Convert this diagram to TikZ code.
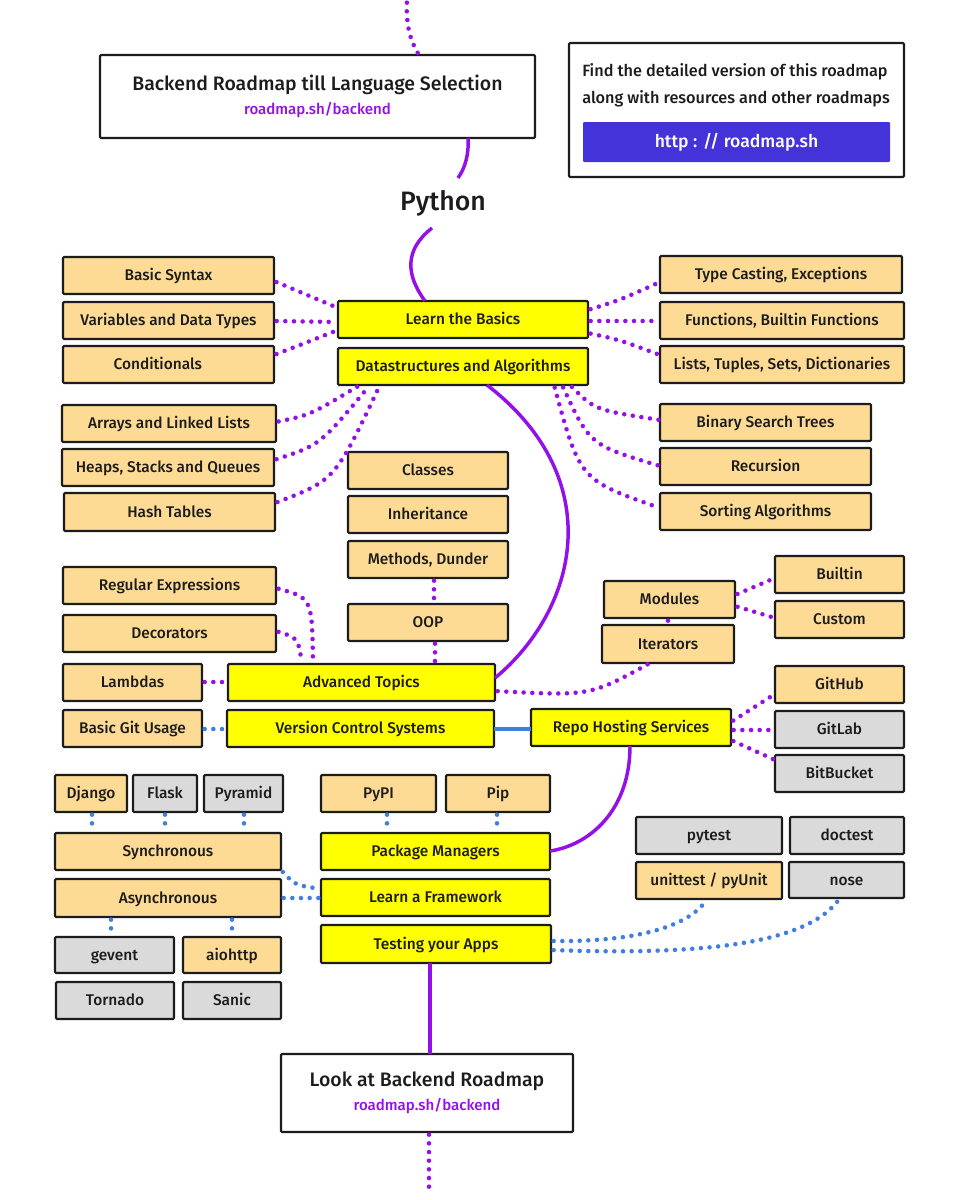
\documentclass[tikz,border=0pt]{standalone}
\usepackage{fontspec}
\setmainfont{Fira Sans}[UprightFont=* Medium]
\usetikzlibrary{calc}
\definecolor{pur}{HTML}{9410EA}
\definecolor{blu}{HTML}{3F7FE2}
\definecolor{btn}{HTML}{4433D9}
\definecolor{ora}{HTML}{FDDB94}
\definecolor{yel}{HTML}{FFFF00}
\definecolor{gra}{HTML}{DADADA}
\definecolor{ink}{HTML}{1C1C1C}
\tikzset{
  bxbase/.style={draw=ink,line width=1.6pt,rounded corners=0.8pt,inner sep=0pt,outer sep=0pt,text=ink,font=\fontsize{11.6}{13}\selectfont,align=center},
  bxone/.style={bxbase,text height=9.2pt,text depth=1pt},
  boxo/.style={bxone,fill=ora},
  boxy/.style={bxone,fill=yel},
  boxg/.style={bxone,fill=gra},
  boxw/.style={bxbase,fill=white,font=\fontsize{14.6}{20}\selectfont},
  pd/.style={pur,line width=3.4pt,line cap=round,dash pattern=on 0pt off 6.5pt,shorten <=2pt,shorten >=1pt},
  bd/.style={blu,line width=3.4pt,line cap=round,dash pattern=on 0pt off 6.5pt,shorten <=2pt,shorten >=1pt},
  ps/.style={pur,line width=2.6pt},
  bs/.style={blu,line width=2.8pt},
  subt/.style={text=pur}
}
\newcommand\bx[7]{\node[#6,minimum width={(#4-#2)*0.75pt},minimum height={(#5-#3)*0.75pt}] (#1) at ({(#2+#4)/2},{(#3+#5)/2}) {#7};}
\newcommand\subline{\color{pur}\fontsize{11.3}{13}\selectfont roadmap.sh/backend}
\begin{document}
\begin{tikzpicture}[x=0.75pt,y=-0.75pt]
\useasboundingbox (0,0) rectangle (960,1200);
\bx{back}{100}{55}{535}{138}{boxw}{Backend Roadmap till Language Selection\\[-2pt]{\subline}}
\bx{info}{569}{43}{904}{177}{boxw}{}
\node[text=ink,font=\fontsize{12.2}{20.5}\selectfont,align=left,anchor=north west,inner sep=0pt] (infotext) at (582,63) {Find the detailed version of this roadmap\\along with resources and other roadmaps};
\bx{btn}{583}{122}{890}{162}{bxbase,draw=none,fill=btn,text=white,font=\fontsize{13.2}{16}\selectfont}{http : // roadmap.sh}
\node[text=ink,font=\fontsize{20}{24}\selectfont,minimum height=37.5pt,inner sep=0pt,outer sep=0pt] (python) at (443,203) {Python};
\bx{syntax}{63}{257}{274}{294}{boxo}{Basic Syntax}
\bx{vars}{63}{302}{274}{339}{boxo}{Variables and Data Types}
\bx{cond}{63}{346}{274}{383}{boxo}{\hspace*{-16pt}Conditionals}
\bx{basics}{338}{301}{588}{338}{boxy}{Learn the Basics}
\bx{dsa}{338}{348}{588}{385}{boxy}{Datastructures and Algorithms}
\bx{casting}{660}{256}{902}{293}{boxo}{Type Casting, Exceptions}
\bx{funcs}{660}{302}{904}{339}{boxo}{Functions, Builtin Functions}
\bx{lists}{660}{346}{904}{383}{boxo}{Lists, Tuples, Sets, Dictionaries}
\bx{arrays}{62}{405}{276}{442}{boxo}{Arrays and Linked Lists}
\bx{heaps}{62}{449}{274}{486}{boxo}{Heaps, Stacks and Queues}
\bx{hash}{64}{493}{275}{531}{boxo}{Hash Tables}
\bx{classes}{348}{452}{508}{489}{boxo}{Classes}
\bx{inherit}{348}{496}{508}{533}{boxo}{Inheritance}
\bx{methods}{348}{541}{508}{578}{boxo}{Methods, Dunder}
\bx{oop}{348}{604}{508}{641}{boxo}{OOP}
\bx{bst}{660}{404}{871}{441}{boxo}{Binary Search Trees}
\bx{recur}{660}{448}{871}{485}{boxo}{Recursion}
\bx{sort}{660}{493}{871}{530}{boxo}{Sorting Algorithms}
\bx{regex}{63}{567}{276}{604}{boxo}{Regular Expressions}
\bx{decor}{63}{615}{276}{652}{boxo}{Decorators}
\bx{lambda}{63}{664}{202}{701}{boxo}{Lambdas}
\bx{adv}{228}{664}{495}{701}{boxy}{Advanced Topics}
\bx{git}{63}{710}{202}{747}{boxo}{Basic Git Usage}
\bx{vcs}{227}{710}{494}{747}{boxy}{Version Control Systems}
\bx{repo}{531}{709}{731}{746}{boxy}{Repo Hosting Services}
\bx{modules}{604}{581}{735}{618}{boxo}{Modules}
\bx{iter}{602}{625}{734}{663}{boxo}{Iterators}
\bx{builtin}{775}{556}{904}{593}{boxo}{Builtin}
\bx{custom}{775}{601}{904}{638}{boxo}{Custom}
\bx{github}{775}{666}{904}{703}{boxo}{GitHub}
\bx{gitlab}{775}{711}{904}{748}{boxg}{GitLab}
\bx{bitb}{775}{755}{904}{792}{boxg}{BitBucket}
\bx{django}{55}{775}{127}{812}{boxo}{Django}
\bx{flask}{133}{775}{197}{812}{boxg}{Flask}
\bx{pyramid}{204}{775}{283}{812}{boxg}{Pyramid}
\bx{sync}{55}{833}{281}{870}{boxo}{Synchronous}
\bx{async}{55}{879}{281}{917}{boxo}{Asynchronous}
\bx{gevent}{55}{937}{174}{973}{boxg}{gevent}
\bx{aiohttp}{183}{937}{281}{973}{boxo}{aiohttp}
\bx{tornado}{56}{982}{174}{1019}{boxg}{Tornado}
\bx{sanic}{183}{982}{281}{1019}{boxg}{Sanic}
\bx{pypi}{321}{775}{436}{812}{boxo}{PyPI}
\bx{pip}{446}{775}{550}{812}{boxo}{Pip}
\bx{pkg}{321}{833}{550}{870}{boxy}{Package Managers}
\bx{fw}{321}{879}{550}{916}{boxy}{Learn a Framework}
\bx{test}{321}{925}{551}{963}{boxy}{Testing your Apps}
\bx{pytest}{636}{817}{782}{854}{boxg}{pytest}
\bx{doctest}{790}{817}{904}{854}{boxg}{doctest}
\bx{unit}{636}{862}{782}{899}{boxo}{unittest / pyUnit}
\bx{nose}{789}{862}{904}{898}{boxg}{nose}
\bx{look}{281}{1054}{573}{1132}{boxw}{Look at Backend Roadmap\\[-2pt]{\subline}}
\coordinate (topfree) at (407,0);
\coordinate (botfree) at (429,1195);
% solid purple
\draw[ps] (468,0 |- back.south) .. controls (469,155) and (465,168) .. (458,0 |- python.north);
\draw[ps] (432,0 |- python.south) .. controls (404,250) and (406,275) .. (425,0 |- basics.north);
\draw[ps] (487,0 |- dsa.south) .. controls (610,480) and (577,610) .. (adv.east |- 0,678);
\draw[ps] (630,0 |- repo.south) .. controls (630,810) and (590,845) .. (pkg.east |- 0,851);
\draw[ps] (430,0 |- test.south) -- (430,0 |- look.north);
\draw[bs] (vcs.east |- 0,729) -- (repo.west |- 0,729);
% top and bottom dotted
\draw[pd] (topfree) .. controls (406,25) and (410,40) .. (419,0 |- back.north);
\draw[pd] (429,0 |- look.south) -- (botfree);
% basics
\draw[pd] (syntax.east |- 0,281) -- (basics.west |- 0,308);
\draw[pd] (vars.east |- 0,321) -- (basics.west |- 0,322);
\draw[pd] (cond.east |- 0,355) .. controls (300,345) .. (basics.west |- 0,330);
\draw[pd] (basics.east |- 0,310) .. controls (620,300) .. (casting.west |- 0,282);
\draw[pd] (basics.east |- 0,321) -- (funcs.west |- 0,321);
\draw[pd] (basics.east |- 0,333) .. controls (620,340) .. (lists.west |- 0,355);
% data structures
\draw[pd] (arrays.east |- 0,422) .. controls (310,415) .. (360,0 |- dsa.south);
\draw[pd] (heaps.east |- 0,460) .. controls (320,445) .. (370,0 |- dsa.south);
\draw[pd] (hash.east |- 0,503) .. controls (335,480) .. (380,0 |- dsa.south);
\draw[pd] (570,0 |- dsa.south) .. controls (595,410) .. (bst.west |- 0,420);
\draw[pd] (562,0 |- dsa.south) .. controls (590,445) .. (recur.west |- 0,466);
\draw[pd] (554,0 |- dsa.south) .. controls (580,480) .. (sort.west |- 0,508);
% OOP
\draw[pd] (434,0 |- methods.south) -- (434,0 |- oop.north);
\draw[pd] (435,0 |- oop.south) -- (435,0 |- adv.north);
\draw[pd] (regex.east |- 0,588) .. controls (312,598) .. (313,0 |- adv.north);
\draw[pd] (decor.east |- 0,631) .. controls (298,638) .. (302,0 |- adv.north);
\draw[pd] (lambda.east |- 0,682) -- (adv.west |- 0,682);
\draw[bd] (git.east |- 0,729) -- (vcs.west |- 0,729);
% modules
\draw[pd] (adv.east |- 0,691) .. controls (590,696) .. (650,0 |- iter.south);
\draw[pd] (668,0 |- modules.south) -- (668,0 |- iter.north);
\draw[pd] (modules.east |- 0,595) -- (builtin.west |- 0,578);
\draw[pd] (modules.east |- 0,606) -- (custom.west |- 0,618);
% repo
\draw[pd] (repo.east |- 0,722) -- (github.west |- 0,694);
\draw[pd] (repo.east |- 0,730) -- (gitlab.west |- 0,730);
\draw[pd] (repo.east |- 0,740) -- (bitb.west |- 0,760);
% frameworks
\draw[bd] (92,0 |- django.south) -- (92,0 |- sync.north);
\draw[bd] (165,0 |- flask.south) -- (165,0 |- sync.north);
\draw[bd] (244,0 |- pyramid.south) -- (244,0 |- sync.north);
\draw[bd] (sync.east |- 0,870) .. controls (295,885) .. (fw.west |- 0,889);
\draw[bd] (async.east |- 0,898) -- (fw.west |- 0,898);
\draw[bd] (111,0 |- async.south) -- (111,0 |- gevent.north);
\draw[bd] (232,0 |- async.south) -- (232,0 |- aiohttp.north);
\draw[bd] (387,0 |- pypi.south) -- (387,0 |- pkg.north);
\draw[bd] (497,0 |- pip.south) -- (497,0 |- pkg.north);
% testing
\draw[bd] (test.east |- 0,941) .. controls (640,942) and (690,925) .. (707,0 |- unit.south);
\draw[bd] (test.east |- 0,950) .. controls (720,956) and (810,940) .. (840,0 |- nose.south);
\end{tikzpicture}
\end{document}
